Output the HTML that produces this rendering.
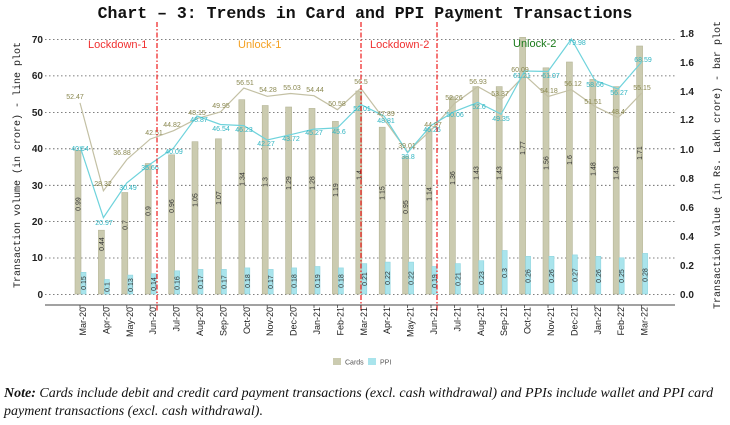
<!DOCTYPE html>
<html><head><meta charset="utf-8"><style>
html,body{margin:0;padding:0;background:#fff;}
svg{display:block;}
.t{font-family:"Liberation Mono",monospace;}
.s{font-family:"Liberation Sans",sans-serif;}
.cl{font-family:"Liberation Sans",sans-serif;font-size:7px;fill:#8a8850;text-anchor:middle;}
.pl{font-family:"Liberation Sans",sans-serif;font-size:7px;fill:#2fb5c2;text-anchor:middle;}
.bl{font-family:"Liberation Sans",sans-serif;font-size:7px;fill:#333;text-anchor:middle;}
.cb{fill:#cbcbb0;stroke:#b5b597;stroke-width:0.6;}
.pb{fill:#a9e4ec;stroke:#8fd5df;stroke-width:0.6;}
.xl{font-family:"Liberation Sans",sans-serif;font-size:9px;fill:#222;text-anchor:end;}
</style></head><body>
<svg width="730" height="425" viewBox="0 0 730 425">
<text x="365" y="18" class="t" font-size="16.5" font-weight="bold" text-anchor="middle" fill="#111">Chart – 3: Trends in Card and PPI Payment Transactions</text>
<g stroke="#555" stroke-width="0.8" stroke-dasharray="1.5,2.5">
<line x1="45" x2="675" y1="39.5" y2="39.5"/><line x1="45" x2="675" y1="75.9" y2="75.9"/><line x1="45" x2="675" y1="112.4" y2="112.4"/><line x1="45" x2="675" y1="148.8" y2="148.8"/><line x1="45" x2="675" y1="185.3" y2="185.3"/><line x1="45" x2="675" y1="221.6" y2="221.6"/><line x1="45" x2="675" y1="258" y2="258"/><line x1="45" x2="675" y1="294.5" y2="294.5"/>
</g>
<g class="s" font-size="10" font-weight="bold" fill="#222" text-anchor="end">
<text x="43" y="43">70</text><text x="43" y="79">60</text><text x="43" y="116">50</text><text x="43" y="152">40</text><text x="43" y="189">30</text><text x="43" y="225">20</text><text x="43" y="261">10</text><text x="43" y="298">0</text>
</g>
<g class="s" font-size="10" font-weight="bold" fill="#222">
<text x="680" y="37">1.8</text><text x="680" y="66">1.6</text><text x="680" y="95">1.4</text><text x="680" y="123">1.2</text><text x="680" y="153">1.0</text><text x="680" y="182">0.8</text><text x="680" y="211">0.6</text><text x="680" y="240">0.4</text><text x="680" y="269">0.2</text><text x="680" y="298">0.0</text>
</g>
<text class="t" font-size="10" fill="#222" text-anchor="middle" transform="translate(20,165) rotate(-90)">Transaction volume (in crore) - line plot</text>
<text class="t" font-size="10" fill="#222" text-anchor="middle" transform="translate(720,165) rotate(-90)">Transaction value (in Rs. Lakh crore) - bar plot</text>
<line x1="45" x2="675" y1="305" y2="305" stroke="#444" stroke-width="1"/>
<g class="cb">
<rect x="75" y="150.4" width="6" height="143.6"/><rect x="98.4" y="230.2" width="6" height="63.8"/><rect x="121.8" y="192.5" width="6" height="101.5"/><rect x="145.2" y="163.5" width="6" height="130.5"/><rect x="168.6" y="154.8" width="6" height="139.2"/><rect x="192" y="141.7" width="6" height="152.3"/><rect x="215.4" y="138.8" width="6" height="155.2"/><rect x="238.8" y="99.7" width="6" height="194.3"/><rect x="262.2" y="105.5" width="6" height="188.5"/><rect x="285.6" y="107" width="6" height="187"/><rect x="309" y="108.4" width="6" height="185.6"/><rect x="332.4" y="121.4" width="6" height="172.6"/><rect x="355.8" y="91" width="6" height="203"/><rect x="379.2" y="127.2" width="6" height="166.8"/><rect x="402.6" y="156.2" width="6" height="137.8"/><rect x="426" y="128.7" width="6" height="165.3"/><rect x="449.4" y="96.8" width="6" height="197.2"/><rect x="472.8" y="86.6" width="6" height="207.4"/><rect x="496.2" y="86.6" width="6" height="207.4"/><rect x="519.6" y="37.3" width="6" height="256.7"/><rect x="543" y="67.8" width="6" height="226.2"/><rect x="566.4" y="62" width="6" height="232"/><rect x="589.8" y="79.4" width="6" height="214.6"/><rect x="613.2" y="86.6" width="6" height="207.4"/><rect x="636.6" y="46" width="6" height="248"/>
</g>
<g class="pb">
<rect x="81" y="272.3" width="5" height="21.7"/><rect x="104.4" y="279.5" width="5" height="14.5"/><rect x="127.8" y="275.1" width="5" height="18.9"/><rect x="151.2" y="273.7" width="5" height="20.3"/><rect x="174.6" y="270.8" width="5" height="23.2"/><rect x="198" y="269.4" width="5" height="24.6"/><rect x="221.4" y="269.4" width="5" height="24.6"/><rect x="244.8" y="267.9" width="5" height="26.1"/><rect x="268.2" y="269.4" width="5" height="24.6"/><rect x="291.6" y="267.9" width="5" height="26.1"/><rect x="315" y="266.5" width="5" height="27.5"/><rect x="338.4" y="267.9" width="5" height="26.1"/><rect x="361.8" y="263.6" width="5" height="30.4"/><rect x="385.2" y="262.1" width="5" height="31.9"/><rect x="408.6" y="262.1" width="5" height="31.9"/><rect x="432" y="266.5" width="5" height="27.5"/><rect x="455.4" y="263.6" width="5" height="30.4"/><rect x="478.8" y="260.7" width="5" height="33.3"/><rect x="502.2" y="250.5" width="5" height="43.5"/><rect x="525.6" y="256.3" width="5" height="37.7"/><rect x="549" y="256.3" width="5" height="37.7"/><rect x="572.4" y="254.9" width="5" height="39.1"/><rect x="595.8" y="256.3" width="5" height="37.7"/><rect x="619.2" y="257.8" width="5" height="36.2"/><rect x="642.6" y="253.4" width="5" height="40.6"/>
</g>
<g class="bl">
<text transform="translate(80.5,204) rotate(-90)">0.99</text><text transform="translate(103.9,244) rotate(-90)">0.44</text><text transform="translate(127.3,225) rotate(-90)">0.7</text><text transform="translate(150.7,211) rotate(-90)">0.9</text><text transform="translate(174.1,206) rotate(-90)">0.96</text><text transform="translate(197.5,200) rotate(-90)">1.05</text><text transform="translate(220.9,198) rotate(-90)">1.07</text><text transform="translate(244.3,179) rotate(-90)">1.34</text><text transform="translate(267.7,182) rotate(-90)">1.3</text><text transform="translate(291.1,183) rotate(-90)">1.29</text><text transform="translate(314.5,183) rotate(-90)">1.28</text><text transform="translate(337.9,190) rotate(-90)">1.19</text><text transform="translate(361.3,175) rotate(-90)">1.4</text><text transform="translate(384.7,193) rotate(-90)">1.15</text><text transform="translate(408.1,207) rotate(-90)">0.95</text><text transform="translate(431.5,194) rotate(-90)">1.14</text><text transform="translate(454.9,178) rotate(-90)">1.36</text><text transform="translate(478.3,173) rotate(-90)">1.43</text><text transform="translate(501.7,173) rotate(-90)">1.43</text><text transform="translate(525.1,148) rotate(-90)">1.77</text><text transform="translate(548.5,163) rotate(-90)">1.56</text><text transform="translate(571.9,160) rotate(-90)">1.6</text><text transform="translate(595.3,169) rotate(-90)">1.48</text><text transform="translate(618.7,173) rotate(-90)">1.43</text><text transform="translate(642.1,153) rotate(-90)">1.71</text>
</g>
<g class="bl">
<text transform="translate(86,283) rotate(-90)">0.15</text><text transform="translate(109.4,287) rotate(-90)">0.1</text><text transform="translate(132.8,285) rotate(-90)">0.13</text><text transform="translate(156.2,284) rotate(-90)">0.14</text><text transform="translate(179.6,283) rotate(-90)">0.16</text><text transform="translate(203,282) rotate(-90)">0.17</text><text transform="translate(226.4,282) rotate(-90)">0.17</text><text transform="translate(249.8,281) rotate(-90)">0.18</text><text transform="translate(273.2,282) rotate(-90)">0.17</text><text transform="translate(296.6,281) rotate(-90)">0.18</text><text transform="translate(320,281) rotate(-90)">0.19</text><text transform="translate(343.4,281) rotate(-90)">0.18</text><text transform="translate(366.8,279) rotate(-90)">0.21</text><text transform="translate(390.2,278) rotate(-90)">0.22</text><text transform="translate(413.6,278) rotate(-90)">0.22</text><text transform="translate(437,281) rotate(-90)">0.19</text><text transform="translate(460.4,279) rotate(-90)">0.21</text><text transform="translate(483.8,278) rotate(-90)">0.23</text><text transform="translate(507.2,273) rotate(-90)">0.3</text><text transform="translate(530.6,276) rotate(-90)">0.26</text><text transform="translate(554,276) rotate(-90)">0.26</text><text transform="translate(577.4,275) rotate(-90)">0.27</text><text transform="translate(600.8,276) rotate(-90)">0.26</text><text transform="translate(624.2,276) rotate(-90)">0.25</text><text transform="translate(647.6,275) rotate(-90)">0.28</text>
</g>
<polyline fill="none" stroke="#c3c0a4" stroke-width="1.2" points="80,102.9 103.4,190.8 126.8,159.6 150.2,139.1 173.6,130.7 197,118.6 220.4,112 243.8,88.1 267.2,96.3 290.6,93.5 314,95.7 337.4,109.7 360.8,88.2 384.2,119.5 407.6,151.9 431,130.2 454.4,103.6 477.8,86.6 501.2,99.6 524.6,75.1 548,96.6 571.4,89.6 594.8,106.3 618.2,117.7 641.6,93.1"/>
<polyline fill="none" stroke="#6fd3dc" stroke-width="1.2" points="80,146.3 103.4,217.6 126.8,182.9 150.2,164.1 173.6,148 197,116 220.4,124.5 243.8,125.6 267.2,140 290.6,134.7 314,129.1 337.4,127.9 360.8,104.5 384.2,116.2 407.6,152.7 431,125.5 454.4,111.6 477.8,102.4 501.2,114.2 524.6,71 548,71.5 571.4,39 594.8,80.3 618.2,89 641.6,62"/>
<g class="cl">
<text x="75" y="99">52.47</text><text x="103" y="186">28.32</text><text x="122" y="155">36.88</text><text x="154" y="135">42.51</text><text x="172" y="127">44.82</text><text x="197" y="115">48.15</text><text x="221" y="108">49.95</text><text x="245" y="85">56.51</text><text x="268" y="92">54.28</text><text x="292" y="90">55.03</text><text x="315" y="92">54.44</text><text x="337" y="106">50.58</text><text x="361" y="84">56.5</text><text x="386" y="116">47.89</text><text x="407" y="148">39.01</text><text x="433" y="127">44.97</text><text x="454" y="100">52.26</text><text x="478" y="84">56.93</text><text x="500" y="96">53.37</text><text x="520" y="72">60.09</text><text x="549" y="93">54.18</text><text x="573" y="86">56.12</text><text x="593" y="104">51.51</text><text x="618" y="114">48.4</text><text x="642" y="90">55.15</text>
</g>
<g class="pl">
<text x="80" y="151">40.54</text><text x="104" y="225">20.97</text><text x="128" y="190">30.49</text><text x="150" y="170">35.66</text><text x="174" y="154">40.09</text><text x="199" y="122">48.87</text><text x="221" y="131">46.54</text><text x="244" y="132">46.23</text><text x="266" y="146">42.27</text><text x="291" y="141">43.72</text><text x="314" y="135">45.27</text><text x="339" y="134">45.6</text><text x="362" y="111">52.01</text><text x="386" y="123">48.81</text><text x="408" y="159">38.8</text><text x="432" y="132">46.26</text><text x="455" y="117">50.06</text><text x="479" y="109">52.6</text><text x="501" y="121">49.35</text><text x="522" y="78">61.21</text><text x="551" y="78">61.07</text><text x="577" y="45">79.98</text><text x="595" y="87">58.66</text><text x="619" y="95">56.27</text><text x="643" y="62">68.59</text>
</g>
<g stroke="#ee1c1c" stroke-width="1.2" stroke-dasharray="5,2,1.5,2">
<line x1="157" x2="157" y1="22" y2="312"/><line x1="361" x2="361" y1="22" y2="312"/><line x1="437" x2="437" y1="22" y2="312"/>
</g>
<g class="s" font-size="11">
<text x="88" y="48" fill="#f03030">Lockdown-1</text><text x="238" y="48" fill="#f4a020">Unlock-1</text><text x="370" y="48" fill="#f03030">Lockdown-2</text><text x="513" y="47" fill="#1a7a1a">Unlock-2</text>
</g>
<g class="xl">
<text transform="translate(86,307) rotate(-90)">Mar-20</text><text transform="translate(109.4,307) rotate(-90)">Apr-20</text><text transform="translate(132.8,307) rotate(-90)">May-20</text><text transform="translate(156.2,307) rotate(-90)">Jun-20</text><text transform="translate(179.6,307) rotate(-90)">Jul-20</text><text transform="translate(203,307) rotate(-90)">Aug-20</text><text transform="translate(226.4,307) rotate(-90)">Sep-20</text><text transform="translate(249.8,307) rotate(-90)">Oct-20</text><text transform="translate(273.2,307) rotate(-90)">Nov-20</text><text transform="translate(296.6,307) rotate(-90)">Dec-20</text><text transform="translate(320,307) rotate(-90)">Jan-21</text><text transform="translate(343.4,307) rotate(-90)">Feb-21</text><text transform="translate(366.8,307) rotate(-90)">Mar-21</text><text transform="translate(390.2,307) rotate(-90)">Apr-21</text><text transform="translate(413.6,307) rotate(-90)">May-21</text><text transform="translate(437,307) rotate(-90)">Jun-21</text><text transform="translate(460.4,307) rotate(-90)">Jul-21</text><text transform="translate(483.8,307) rotate(-90)">Aug-21</text><text transform="translate(507.2,307) rotate(-90)">Sep-21</text><text transform="translate(530.6,307) rotate(-90)">Oct-21</text><text transform="translate(554,307) rotate(-90)">Nov-21</text><text transform="translate(577.4,307) rotate(-90)">Dec-21</text><text transform="translate(600.8,307) rotate(-90)">Jan-22</text><text transform="translate(624.2,307) rotate(-90)">Feb-22</text><text transform="translate(647.6,307) rotate(-90)">Mar-22</text>
</g>
<g stroke="#444" stroke-width="0.8">
<line x1="80" x2="80" y1="305" y2="308"/><line x1="103.4" x2="103.4" y1="305" y2="308"/><line x1="126.8" x2="126.8" y1="305" y2="308"/><line x1="150.2" x2="150.2" y1="305" y2="308"/><line x1="173.6" x2="173.6" y1="305" y2="308"/><line x1="197" x2="197" y1="305" y2="308"/><line x1="220.4" x2="220.4" y1="305" y2="308"/><line x1="243.8" x2="243.8" y1="305" y2="308"/><line x1="267.2" x2="267.2" y1="305" y2="308"/><line x1="290.6" x2="290.6" y1="305" y2="308"/><line x1="314" x2="314" y1="305" y2="308"/><line x1="337.4" x2="337.4" y1="305" y2="308"/><line x1="360.8" x2="360.8" y1="305" y2="308"/><line x1="384.2" x2="384.2" y1="305" y2="308"/><line x1="407.6" x2="407.6" y1="305" y2="308"/><line x1="431" x2="431" y1="305" y2="308"/><line x1="454.4" x2="454.4" y1="305" y2="308"/><line x1="477.8" x2="477.8" y1="305" y2="308"/><line x1="501.2" x2="501.2" y1="305" y2="308"/><line x1="524.6" x2="524.6" y1="305" y2="308"/><line x1="548" x2="548" y1="305" y2="308"/><line x1="571.4" x2="571.4" y1="305" y2="308"/><line x1="594.8" x2="594.8" y1="305" y2="308"/><line x1="618.2" x2="618.2" y1="305" y2="308"/><line x1="641.6" x2="641.6" y1="305" y2="308"/>
</g>
<rect x="333" y="358" width="8" height="7" fill="#cbcbb0"/>
<text x="345" y="364.5" class="s" font-size="7" fill="#555">Cards</text>
<rect x="368" y="358" width="8" height="7" fill="#a9e4ec"/>
<text x="380" y="364.5" class="s" font-size="7" fill="#555">PPI</text>
<text x="4" y="397" font-family="'Liberation Serif',serif" font-style="italic" font-size="14" fill="#111"><tspan font-weight="bold">Note:</tspan> Cards include debit and credit card payment transactions (excl. cash withdrawal) and PPIs include wallet and PPI card</text>
<text x="4" y="415" font-family="'Liberation Serif',serif" font-style="italic" font-size="14" fill="#111">payment transactions (excl. cash withdrawal).</text>
</svg>
</body></html>
